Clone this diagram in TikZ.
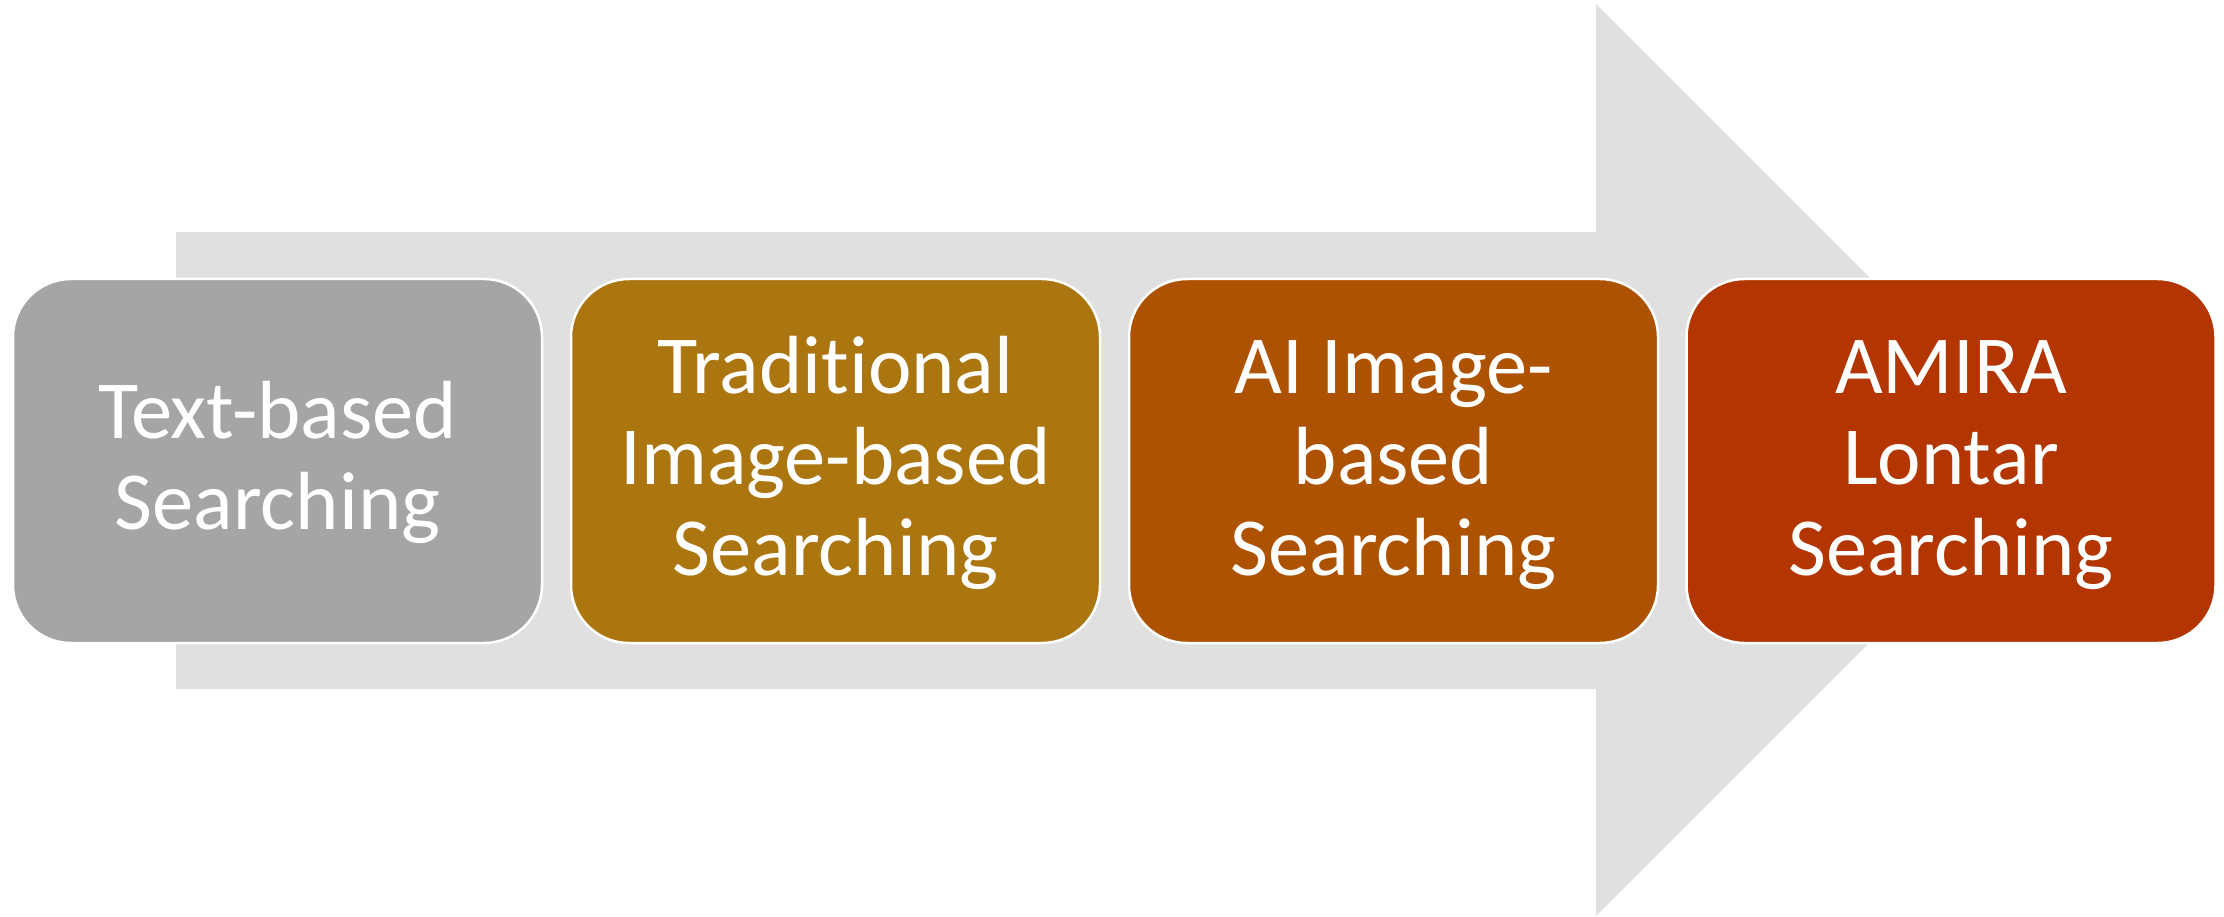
\documentclass[tikz,border=0pt]{standalone}
\usepackage{fontspec}
\setmainfont{Carlito}[Ligatures={NoCommon,NoRare,NoContextual}]
\definecolor{arrowgray}{RGB}{224,224,224}
\definecolor{cA}{RGB}{165,165,165}
\definecolor{cB}{RGB}{171,117,16}
\definecolor{cC}{RGB}{173,82,0}
\definecolor{cD}{RGB}{179,53,0}
\newcommand\mystrut{\rule[-22.5pt]{0pt}{91pt}}
\begin{document}
\begin{tikzpicture}[x=1pt,y=-1pt,
  stagebox/.style={draw=white, line width=2.5pt, rounded corners=58pt,
    minimum width=529pt, minimum height=364pt, inner sep=0pt,
    text=white, align=center, font=\fontsize{82.5}{91}\selectfont}]
\useasboundingbox (0,0) rectangle (2224,917);
\fill[white] (0,0) rectangle (2224,917);
% big arrow
\fill[arrowgray] (176,232) -- (1596,232) -- (1596,4) -- (2052,460) -- (1596,916) -- (1596,689) -- (176,689) -- cycle;
% stage boxes
\node[stagebox, fill=cA] (b1) at (277.5,461) {\mystrut Text-based\\\mystrut Searching};
\node[stagebox, fill=cB] (b2) at (835.5,461) {\mystrut Traditional\\\mystrut Image-based\\\mystrut Searching};
\node[stagebox, fill=cC] (b3) at (1393.5,461) {\mystrut AI Image-\\\mystrut based\\\mystrut Searching};
\node[stagebox, fill=cD] (b4) at (1951,461) {\mystrut AMIRA\\\mystrut Lontar\\\mystrut Searching};
\end{tikzpicture}
\end{document}
